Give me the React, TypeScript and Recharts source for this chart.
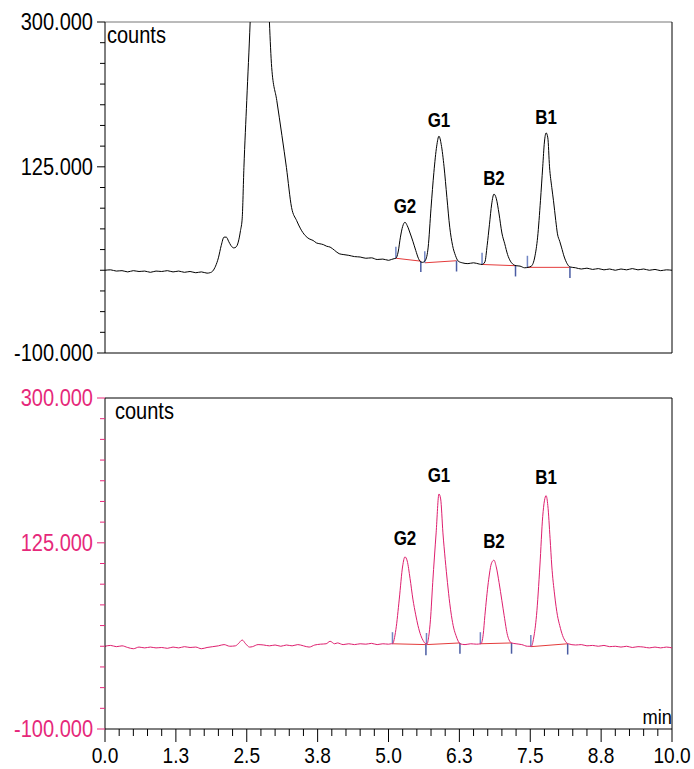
import React from "react"
import { ComposedChart, Line, XAxis, YAxis, ReferenceLine, Scatter, Label } from "recharts"

const FONT = "'Liberation Sans', Arial, sans-serif"

// axis ticks
const xMajorTicks = [0, 1.25, 2.5, 3.75, 5, 6.25, 7.5, 8.75, 10]
const xTickLabels = ["0.0", "1.3", "2.5", "3.8", "5.0", "6.3", "7.5", "8.8", "10.0"]
const yLabelTicks = [-100, 125, 300]
const yTickLabels = ["-100.000", "125.000", "300.000"]
const xAllTicks = Array.from({ length: 41 }, (_, i) => i * 0.25)
const yAllTicks = Array.from({ length: 17 }, (_, i) => -100 + i * 25)

// peaks
const peakNames = ["G2", "G1", "B2", "B1"]
const peakTimes = [5.29, 5.89, 6.86, 7.78]
const topPeakHeights = [58, 162, 92, 166]
const bottomPeakHeights = [108, 184, 104, 182]

// integration baselines: [startTime, startValue, endTime, endValue]
const topBaselines = [
    [5.13, 14.5, 5.57, 11],
    [5.64, 9, 6.2, 11.5],
    [6.65, 7, 7.24, 5.5],
    [7.45, 3.5, 8.2, 3.5],
]
const bottomBaselines = [
    [5.07, 3, 5.66, 2],
    [5.67, 2, 6.26, 4],
    [6.62, 3, 7.17, 4],
    [7.51, -0.5, 8.16, 3],
]

// top trace (time, counts)
const topTrace = [
    [0, 0], [0.1, 0.5], [0.2, -1], [0.3, -0.5], [0.4, -2], [0.5, -0.5], [0.6, -1.5], [0.7, -1],
    [0.8, -2.5], [0.9, -1], [1.0, -1.5], [1.1, -0.5], [1.2, -2], [1.3, -1], [1.4, -2.5], [1.5, -1.5],
    [1.6, -3], [1.7, -2], [1.8, -3.5], [1.85, -3], [1.9, -1], [1.95, 5], [2.0, 15], [2.05, 30],
    [2.1, 40], [2.14, 40], [2.18, 35], [2.22, 30], [2.27, 27], [2.31, 28], [2.35, 34], [2.39, 48],
    [2.42, 63], [2.45, 124], [2.5, 205], [2.56, 300], [2.62, 420], [2.68, 505], [2.73, 530],
    [2.78, 505], [2.84, 420], [2.9, 300], [2.94, 245], [3.03, 205], [3.12, 163], [3.2, 124],
    [3.29, 76], [3.38, 60], [3.45, 50], [3.53, 42], [3.6, 38], [3.67, 36], [3.73, 33], [3.79, 32],
    [3.85, 31], [3.91, 29], [3.97, 28], [4.05, 24], [4.13, 20], [4.2, 19], [4.3, 18], [4.4, 16.5],
    [4.5, 16], [4.6, 14.5], [4.7, 15], [4.8, 13], [4.9, 13.5], [5.0, 12], [5.05, 13], [5.1, 14],
    [5.13, 14.5], [5.17, 22], [5.21, 40], [5.25, 53], [5.29, 58], [5.33, 54], [5.38, 45], [5.43, 35],
    [5.48, 24], [5.53, 14], [5.57, 10], [5.6, 9.5], [5.65, 12], [5.7, 28], [5.75, 75], [5.8, 118],
    [5.85, 150], [5.89, 162], [5.93, 152], [5.98, 125], [6.03, 88], [6.08, 52], [6.13, 30], [6.18, 18],
    [6.23, 11], [6.3, 9], [6.4, 8], [6.5, 9], [6.6, 7.5], [6.65, 7], [6.7, 10], [6.74, 30],
    [6.78, 55], [6.82, 80], [6.86, 92], [6.9, 87], [6.95, 68], [7.0, 45], [7.05, 32], [7.1, 19],
    [7.15, 11], [7.2, 7], [7.25, 5.5], [7.32, 5], [7.4, 3], [7.46, 3.5], [7.52, 5], [7.58, 16],
    [7.63, 40], [7.68, 84], [7.72, 125], [7.75, 155], [7.78, 166], [7.81, 160], [7.84, 125], [7.88, 100],
    [7.91, 84], [7.95, 60], [7.98, 44], [8.02, 35], [8.05, 28], [8.1, 16], [8.15, 8], [8.2, 4],
    [8.3, 3], [8.4, 1.5], [8.5, 2.5], [8.6, 1], [8.7, 2], [8.8, 0.5], [8.9, 1.5], [9.0, 0],
    [9.1, 1.5], [9.2, 0.5], [9.3, 2], [9.4, 0.5], [9.5, 1.5], [9.6, 0], [9.7, 1], [9.8, -0.5],
    [9.9, 0.5], [10.0, 0],
]

// bottom trace (time, counts)
const bottomTrace = [
    [0, 0], [0.1, 1], [0.2, -0.5], [0.3, 0.5], [0.4, -1.5], [0.5, -3], [0.6, -1], [0.7, -2],
    [0.8, -1], [0.9, -2], [1.0, -1.5], [1.1, -2.5], [1.2, -1], [1.3, -2], [1.4, -0.5], [1.5, -1.5],
    [1.6, -1], [1.7, -3], [1.8, -1.5], [1.9, -0.5], [2.0, 0.5], [2.1, 2], [2.2, 0], [2.3, 0.5],
    [2.35, 3], [2.42, 7.5], [2.48, 3], [2.55, -1], [2.6, -0.5], [2.7, 2], [2.8, 1.5], [2.9, 0.5],
    [3.0, 1.5], [3.1, 0], [3.2, 1.5], [3.3, 0.5], [3.4, 2], [3.5, 0.5], [3.6, -1], [3.7, 1.5],
    [3.8, 2.5], [3.9, 3], [3.97, 6], [4.05, 3], [4.1, 4], [4.2, 2], [4.3, 3], [4.4, 2],
    [4.5, 3], [4.6, 2.5], [4.7, 3.5], [4.8, 2], [4.9, 3], [5.0, 2.5], [5.05, 3], [5.07, 3],
    [5.13, 20], [5.19, 57], [5.25, 97], [5.29, 108], [5.33, 103], [5.38, 82], [5.43, 57], [5.48, 38],
    [5.52, 25], [5.57, 13], [5.61, 7], [5.66, 3], [5.68, 3], [5.71, 12], [5.74, 32], [5.78, 77],
    [5.84, 137], [5.89, 184], [5.92, 178], [5.96, 137], [6.0, 105], [6.04, 77], [6.08, 52], [6.11, 37],
    [6.15, 22], [6.19, 13], [6.23, 6], [6.26, 3], [6.35, 2], [6.45, 3], [6.55, 2.5], [6.63, 3],
    [6.67, 14], [6.7, 37], [6.76, 77], [6.82, 101], [6.86, 104], [6.9, 96], [6.95, 77], [7.0, 55],
    [7.04, 37], [7.1, 13], [7.17, 4], [7.25, 3], [7.35, 2], [7.45, 0], [7.52, 0], [7.56, 10],
    [7.61, 37], [7.67, 97], [7.72, 157], [7.78, 182], [7.81, 170], [7.85, 130], [7.88, 97], [7.93, 62],
    [7.98, 37], [8.02, 25], [8.07, 13], [8.12, 6], [8.17, 3], [8.3, 1.5], [8.4, 2], [8.5, 0.5],
    [8.6, 1], [8.7, 0], [8.8, 1], [8.9, -0.5], [9.0, 0], [9.1, -1], [9.2, 0], [9.3, -1.5],
    [9.4, -0.5], [9.5, -1], [9.6, -2], [9.7, -1], [9.8, -2], [9.9, -1], [10.0, -2],
]

const PINK = "#e6287a"
const PINK_LINE = "#de1f6e"

// text squeezed a bit horizontally, like the original export
function SText({ x, y, size, anchor = "start", fill = "#000", weight = "normal", children }: any) {
    return (
        <text
            transform={`translate(${x},${y}) scale(0.87,1)`}
            fontSize={size}
            textAnchor={anchor}
            fill={fill}
            fontWeight={weight}
            fontFamily={FONT}
        >
            {children}
        </text>
    )
}

function XTick(props: any) {
    const { x, y, payload } = props
    const i = xMajorTicks.indexOf(payload.value)
    const major = i >= 0
    return (
        <g>
            <line x1={x} x2={x} y1={y} y2={y + (major ? 13 : 7)} stroke="#000" />
            {major && (
                <SText x={x} y={y + 34} size={22} anchor="middle">
                    {xTickLabels[i]}
                </SText>
            )}
        </g>
    )
}

const makeYTick = (color: string) => (props: any) => {
    const { x, y, payload } = props
    const i = yLabelTicks.indexOf(payload.value)
    const major = i >= 0
    return (
        <g>
            <line x1={x - (major ? 8 : 5)} x2={x} y1={y} y2={y} stroke={color} />
            {major && (
                <SText x={x - 12} y={y + 8} size={23} anchor="end" fill={color}>
                    {yTickLabels[i]}
                </SText>
            )}
        </g>
    )
}

function Chromatogram({ trace, heights, baselines, lineColor, labelColor, showX, height, bottomGap, countsDx, labelGap, topBorder }: any) {
    const data = trace.map(([t, v]: number[]) => ({ t, v }))
    const peaks = peakNames.map((name, i) => ({ name, t: peakTimes[i], v: heights[i] }))
    return (
        <ComposedChart width={694} height={height} margin={{ top: 22, right: 22, left: 0, bottom: bottomGap }}>
            <XAxis
                dataKey="t"
                type="number"
                domain={[0, 10]}
                ticks={xAllTicks}
                interval={0}
                hide={!showX}
                height={40}
                tickSize={0}
                tickMargin={0}
                tickLine={false}
                axisLine={{ stroke: "#000" }}
                tick={<XTick />}
            >
                {showX && (
                    <Label
                        content={({ viewBox }: any) => (
                            <SText x={viewBox.x + viewBox.width} y={viewBox.y - 5} size={21} anchor="end">
                                min
                            </SText>
                        )}
                    />
                )}
            </XAxis>
            <YAxis
                type="number"
                domain={[-100, 300]}
                allowDataOverflow
                ticks={yAllTicks}
                interval={0}
                width={105}
                tickSize={0}
                tickMargin={0}
                tickLine={false}
                axisLine={{ stroke: "#000" }}
                tick={makeYTick(labelColor)}
            >
                <Label
                    content={({ viewBox }: any) => (
                        <SText x={viewBox.x + viewBox.width + countsDx} y={viewBox.y + 21} size={23}>
                            counts
                        </SText>
                    )}
                />
            </YAxis>
            <ReferenceLine y={300} stroke={topBorder} />
            <ReferenceLine x={10} stroke="#000" />
            {!showX && <ReferenceLine y={-100} stroke="#000" />}
            {baselines.map((b: number[], i: number) => (
                <ReferenceLine key={`bl-${i}`} segment={[{ x: b[0], y: b[1] }, { x: b[2], y: b[3] }]} stroke="#e43b3b" />
            ))}
            {baselines.map((b: number[], i: number) => (
                <ReferenceLine key={`ts-${i}`} segment={[{ x: b[0], y: b[1] }, { x: b[0], y: b[1] + 14 }]} stroke="#7185c4" strokeWidth={1.5} />
            ))}
            {baselines.map((b: number[], i: number) => (
                <ReferenceLine key={`te-${i}`} segment={[{ x: b[2], y: b[3] }, { x: b[2], y: b[3] - 13 }]} stroke="#4a5ca3" strokeWidth={1.5} />
            ))}
            <Line
                data={data}
                dataKey="v"
                type="monotone"
                stroke={lineColor}
                strokeWidth={1}
                dot={false}
                activeDot={false}
                isAnimationActive={false}
            />
            <Scatter
                data={peaks}
                dataKey="v"
                isAnimationActive={false}
                shape={(p: any) => (
                    <SText x={p.cx} y={p.cy - labelGap} size={19.5} anchor="middle" weight="bold">
                        {p.payload.name}
                    </SText>
                )}
            />
        </ComposedChart>
    )
}

export default function App() {
    return (
        <div style={{ position: "absolute", left: 0, top: 0, width: 694, height: 769, background: "#fff" }}>
            <div style={{ position: "absolute", left: 0, top: 0 }}>
                <Chromatogram
                    trace={topTrace}
                    heights={topPeakHeights}
                    baselines={topBaselines}
                    lineColor="#000"
                    labelColor="#000"
                    showX={false}
                    height={372}
                    bottomGap={19}
                    countsDx={2}
                    labelGap={9}
                    topBorder="#777"
                />
            </div>
            <div style={{ position: "absolute", left: 0, top: 376 }}>
                <Chromatogram
                    trace={bottomTrace}
                    heights={bottomPeakHeights}
                    baselines={bottomBaselines}
                    lineColor={PINK_LINE}
                    labelColor={PINK}
                    showX={true}
                    height={393}
                    bottomGap={0}
                    countsDx={10}
                    labelGap={12}
                    topBorder="#000"
                />
            </div>
        </div>
    )
}
